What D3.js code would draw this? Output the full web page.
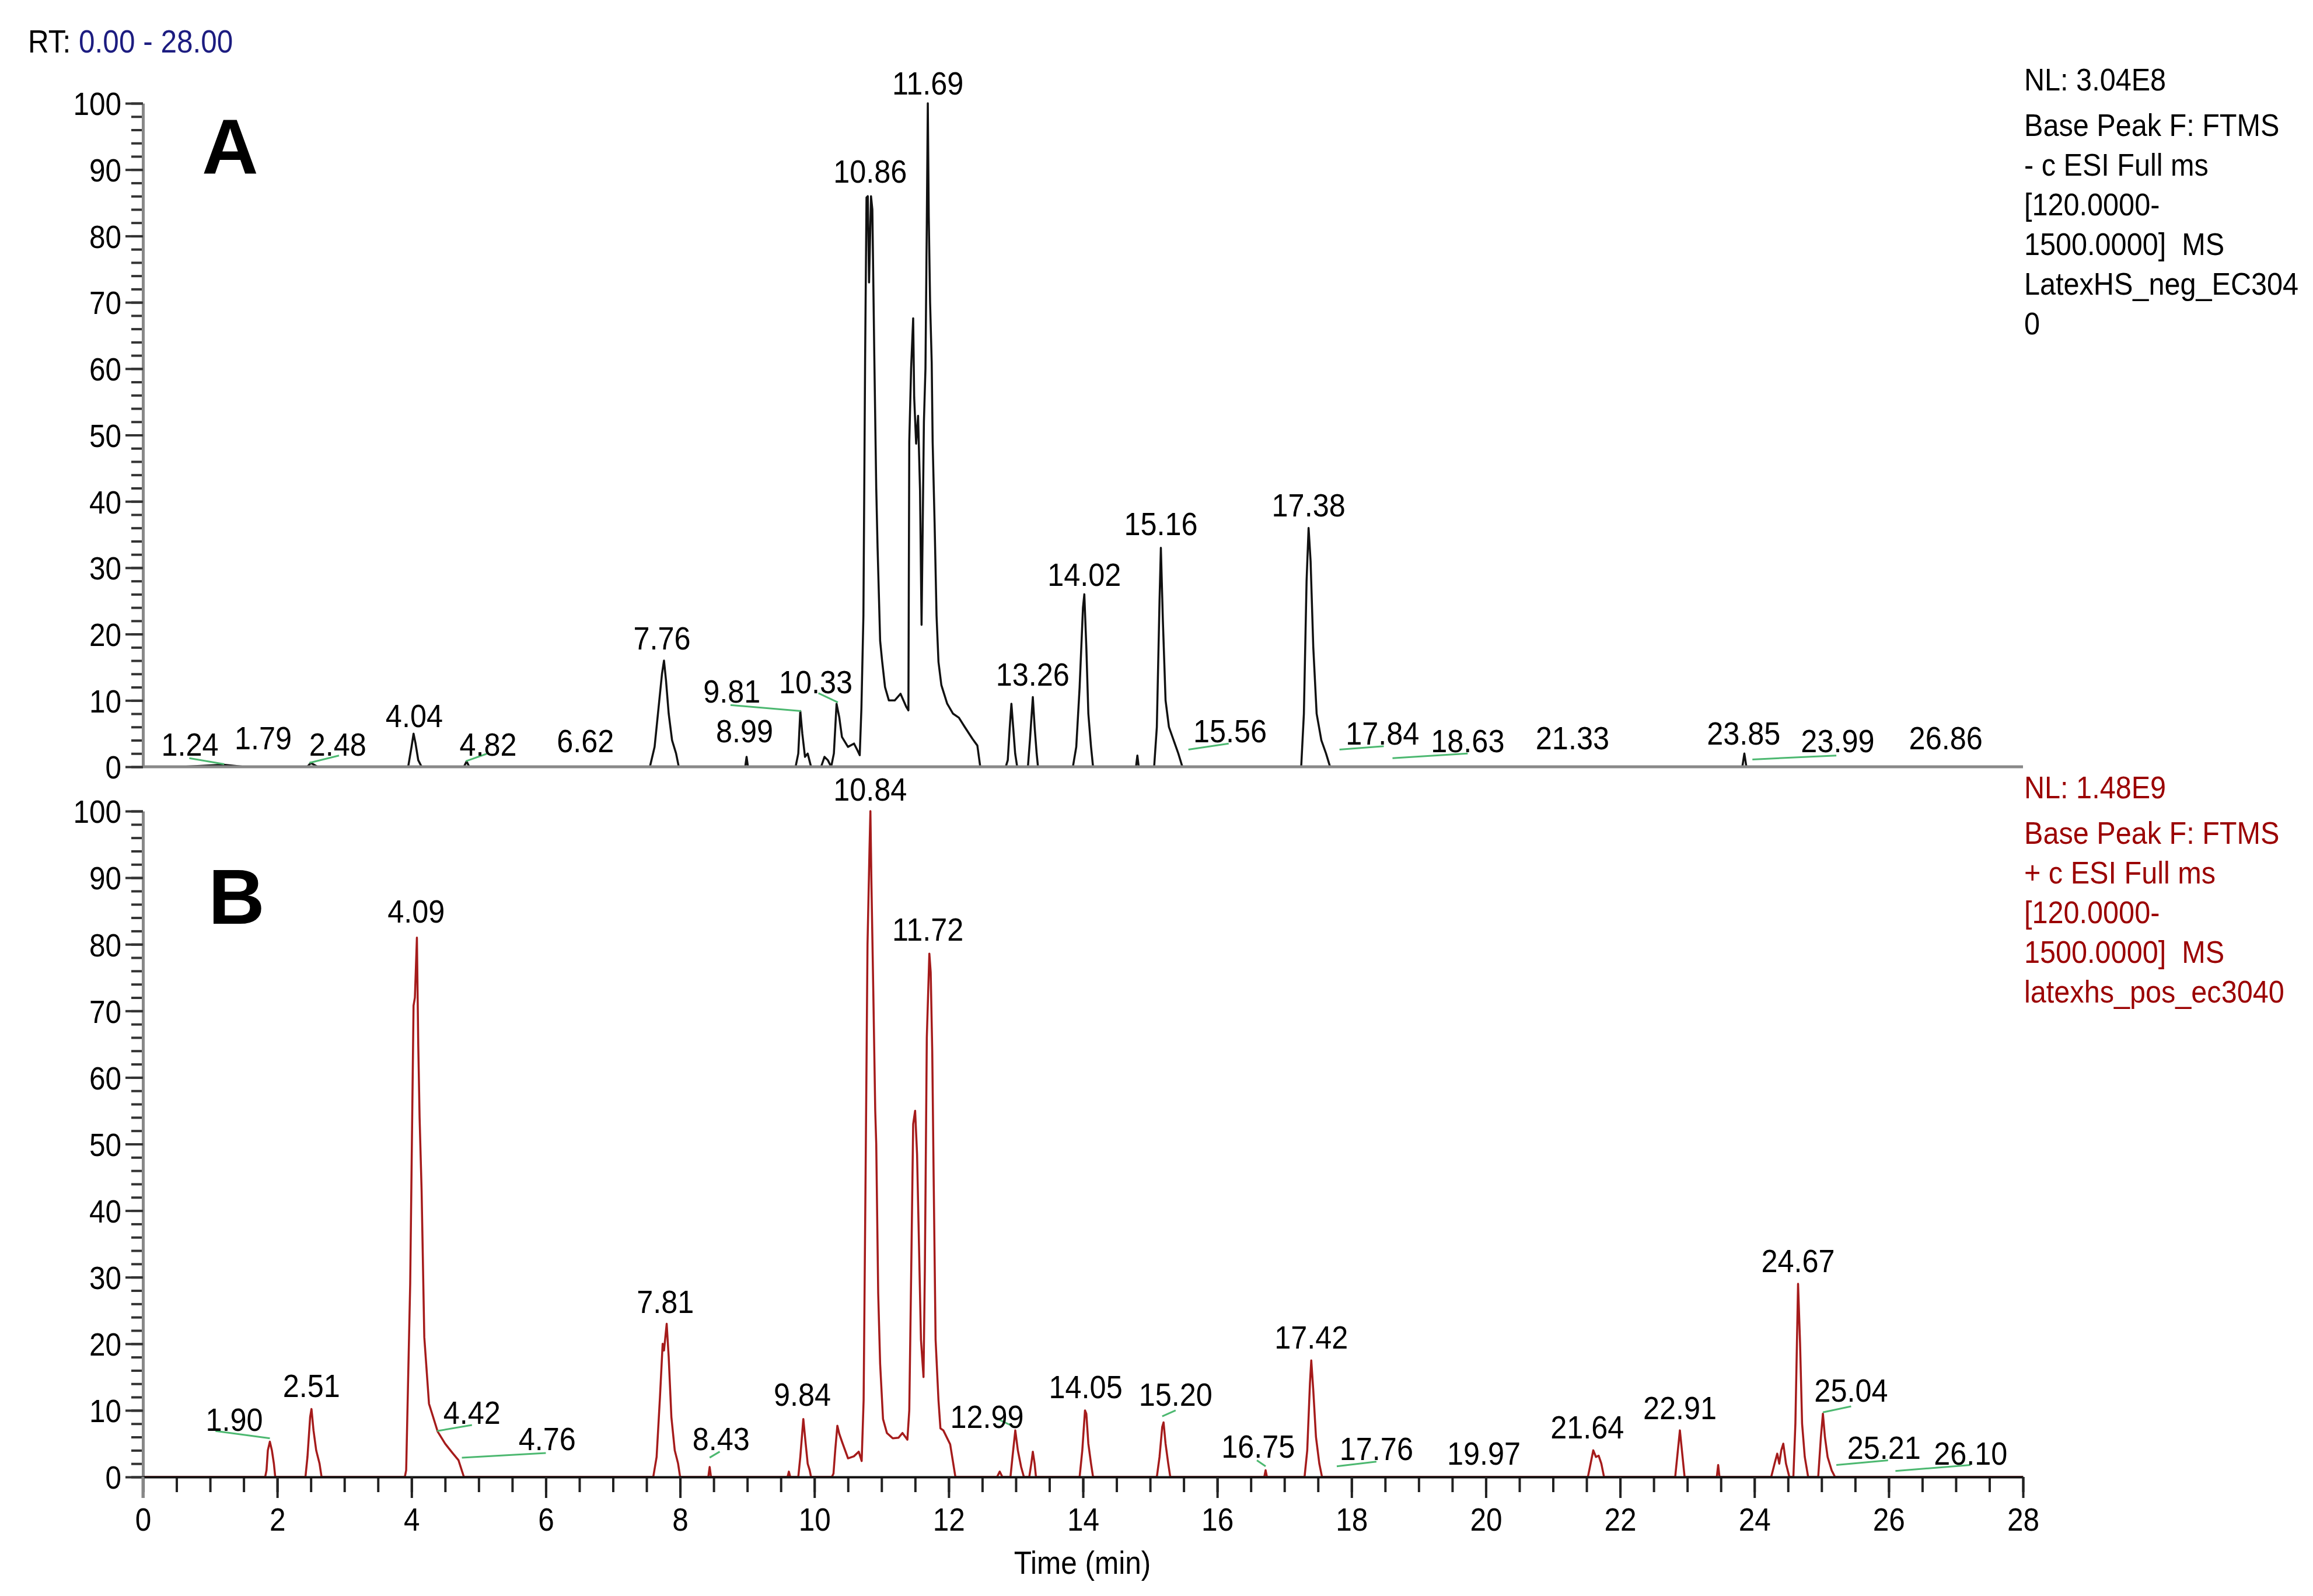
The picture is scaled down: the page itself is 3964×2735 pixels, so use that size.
<!DOCTYPE html>
<html>
<head>
<meta charset="utf-8">
<script src="https://cdn.jsdelivr.net/npm/d3@7"></script>
<style>
  body { margin: 0; background: #fff; }
  text { font-family: "Liberation Sans", Arial, sans-serif; white-space: pre; }
</style>
</head>
<body>
<script>
// retention time range (min) and relative abundance range
var timeRange = [0, 28];
var abundRange = [0, 100];
var majorTimeTicks = d3.range(0, 29, 2);
var minorTimeTicks = d3.range(0, 28.01, 0.5);
var majorAbundTicks = d3.range(0, 101, 10);
var minorAbundTicks = d3.range(0, 101, 2);

// trace A, negative mode base peak chromatogram [time, relative abundance]
var traceA = [
	[0,0],[0.6,0],[1.2,0.3],[1.5,0],[2.45,0],[2.5,0.6],[2.6,0],[3.95,0],[4.0,3],[4.03,5],[4.06,3.5],[4.1,1],[4.15,0],
	[4.78,0],[4.82,0.8],[4.86,0],[7.55,0],[7.62,3],[7.68,9],[7.73,14],[7.76,16],[7.79,13],[7.83,8],[7.88,4],[7.94,2],[7.98,0],
	[8.97,0],[8.99,1.5],[9.01,0],[9.72,0],[9.76,2],[9.79,8.4],[9.82,5],[9.86,1.5],[9.9,2],[9.95,0],[10.1,0],[10.15,1.5],[10.2,1],[10.25,0],
	[10.29,2],[10.33,9.5],[10.37,7.5],[10.41,4.5],[10.5,3],[10.59,3.5],[10.64,2.5],[10.675,1.75],[10.70,8.75],[10.73,22.8],[10.755,61],
	[10.776,85.8],[10.795,86],[10.814,73],[10.83,80],[10.843,86],[10.863,84],[10.892,62],[10.921,42],[10.941,33],[10.979,19],[11.008,16],
	[11.052,12],[11.109,10],[11.196,10],[11.283,11],[11.37,9],[11.40,8.5],[11.413,49],[11.44,60],[11.471,67.6],[11.486,55.7],[11.515,48.7],
	[11.544,52.9],[11.573,41.7],[11.596,21.4],[11.631,52],[11.654,60],[11.674,82],[11.689,100],[11.703,83],[11.723,70],[11.747,61],[11.761,49],
	[11.79,36.8],[11.819,22.8],[11.848,15.8],[11.891,12.3],[11.978,9.5],[12.065,8],[12.152,7.4],[12.239,6],[12.355,4.2],[12.427,3.2],[12.47,0],
	[12.85,0],[12.88,1],[12.91,6],[12.934,9.5],[12.96,6],[12.99,2],[13.02,0],[13.18,0],[13.21,4],[13.253,10.5],[13.28,6],[13.31,2],[13.33,0],
	[13.85,0],[13.9,3],[13.95,12],[14.0,24],[14.02,26],[14.05,18],[14.08,8],[14.12,3],[14.15,0],[14.79,0],[14.81,1.7],[14.83,0],
	[15.06,0],[15.1,6],[15.14,25],[15.16,33],[15.19,22],[15.23,10],[15.28,6],[15.35,4],[15.42,2],[15.48,0],
	[17.25,0],[17.29,8],[17.33,28],[17.36,36],[17.39,31],[17.43,18],[17.48,8],[17.55,4],[17.62,2],[17.68,0],
	[23.82,0],[23.85,2],[23.88,0],[28,0]
];

// trace B, positive mode base peak chromatogram
var traceB = [
	[0,0],[1.82,0],[1.84,1],[1.86,4],[1.89,5.3],[1.92,4],[1.95,2],[1.97,0],[2.42,0],[2.45,3],[2.49,9],[2.51,10.2],[2.54,7],[2.58,4],[2.63,2],[2.66,0],
	[3.9,0],[3.92,1],[3.98,29],[4.03,70.8],[4.05,72],[4.08,81],[4.10,65],[4.12,54],[4.15,43],[4.19,21],[4.26,11],[4.39,6.8],[4.5,5],[4.61,3.6],[4.7,2.5],[4.78,0],
	[7.6,0],[7.65,3],[7.7,12],[7.74,20],[7.76,19],[7.8,23],[7.83,18],[7.87,9],[7.92,4],[7.97,2],[8.0,0],[8.42,0],[8.44,1.5],[8.46,0],
	[9.6,0],[9.62,0.8],[9.64,0],[9.76,0],[9.79,3],[9.835,8.7],[9.87,5],[9.9,2],[9.93,1],[9.95,0],
	[10.26,0],[10.284,0.5],[10.31,4],[10.342,7.7],[10.37,6.5],[10.414,5.2],[10.501,2.8],[10.588,3.1],[10.66,3.8],[10.704,2.4],[10.733,11.5],
	[10.762,45],[10.791,80],[10.82,94],[10.834,100],[10.848,90],[10.877,73],[10.906,55],[10.921,50],[10.95,27.6],[10.979,17],[11.022,8.7],
	[11.08,6.6],[11.167,5.8],[11.254,5.9],[11.312,6.6],[11.385,5.6],[11.413,10],[11.442,31],[11.471,53],[11.5,55],[11.529,48.5],[11.558,34.6],
	[11.587,20.6],[11.625,15],[11.645,31],[11.674,66],[11.712,78.6],[11.732,75.8],[11.755,64],[11.776,45],[11.805,20.6],[11.848,11.5],
	[11.877,7.3],[11.92,7],[12.022,4.9],[12.1,0],
	[12.72,0],[12.76,0.8],[12.8,0],[12.92,0],[12.95,3],[12.992,7],[13.03,4],[13.079,1.5],[13.12,0],[13.2,0],[13.23,2],[13.253,3.8],[13.28,2],[13.3,0],
	[13.95,0],[13.99,4],[14.03,10],[14.05,9.5],[14.08,5],[14.12,2],[14.15,0],[15.1,0],[15.14,3],[15.18,7.5],[15.2,8.2],[15.23,5],[15.27,2],[15.3,0],
	[16.7,0],[16.72,1],[16.74,0],[17.3,0],[17.34,4],[17.38,14],[17.4,17.5],[17.43,13],[17.47,6],[17.52,2],[17.56,0],
	[21.52,0],[21.56,2],[21.6,4],[21.64,3],[21.68,3.2],[21.72,2],[21.76,0],[22.82,0],[22.86,4],[22.89,7],[22.92,4],[22.96,0],
	[23.44,0],[23.46,1.8],[23.48,0],[24.25,0],[24.3,2],[24.34,3.5],[24.37,2],[24.4,4],[24.43,5],[24.47,2],[24.52,0],
	[24.58,0],[24.61,8],[24.65,29],[24.68,20],[24.71,8],[24.75,3],[24.8,0],[24.95,0],[24.99,6],[25.02,9.5],[25.05,6],[25.09,3],[25.15,1],[25.2,0],[28,0]
];

// peak labels [text, time of label centre, abundance of label baseline]
var labelsA = [
	["1.24",0.70,1.7],["1.79",1.79,2.6],["2.48",2.90,1.7],["4.04",4.04,6.0],["4.82",5.14,1.7],["6.62",6.59,2.2],
	["7.76",7.73,17.7],["8.99",8.96,3.7],["9.81",8.77,9.7],["10.33",10.02,11.1],["10.86",10.83,88],["11.69",11.69,101.3],
	["13.26",13.25,12.2],["14.02",14.02,27.3],["15.16",15.16,34.9],["15.56",16.19,3.7],["17.38",17.36,37.7],["17.84",18.46,3.3],
	["18.63",19.73,2.2],["21.33",21.29,2.6],["23.85",23.84,3.3],["23.99",25.24,2.2],["26.86",26.85,2.6]
];
var labelsB = [
	["1.90",1.36,6.9],["2.51",2.51,12.0],["4.09",4.07,83.3],["4.42",4.90,8.0],["4.76",6.02,4.0],["7.81",7.78,24.6],
	["8.43",8.61,4.0],["9.84",9.82,10.7],["10.84",10.83,101.6],["11.72",11.69,80.5],["12.99",12.57,7.4],["14.05",14.04,11.8],
	["15.20",15.38,10.7],["16.75",16.61,2.9],["17.42",17.40,19.3],["17.76",18.37,2.5],["19.97",19.97,1.8],["21.64",21.51,5.8],
	["22.91",22.89,8.7],["24.67",24.65,30.8],["25.04",25.44,11.3],["25.21",25.93,2.7],["26.10",27.22,1.8]
];

// green leader lines [t1, v1, t2, v2]
var leadersA = [
	[0.69,1.3,1.21,0.4],[2.48,0.6,2.92,1.7],[4.81,0.85,5.12,1.96],[8.75,9.3,9.80,8.4],[10.06,11.1,10.35,9.7],
	[15.57,2.6,16.17,3.5],[17.82,2.6,18.48,3.1],[18.61,1.3,19.73,2.0],[23.97,1.1,25.22,1.7]
];
var leadersB = [
	[1.08,6.9,1.89,5.8],[4.38,6.9,4.90,7.8],[4.75,2.9,6.0,3.6],[8.44,2.9,8.59,3.8],[12.73,8.7,12.98,7.5],
	[15.18,9.1,15.38,10.0],[16.59,2.5,16.72,1.6],[17.78,1.6,18.37,2.3],[25.02,9.7,25.44,10.6],[25.22,1.8,25.99,2.5],[26.10,0.9,27.22,1.8]
];

// header text for each trace
var infoA = ["NL: 3.04E8", "Base Peak F: FTMS", "- c ESI Full ms", "[120.0000-", "1500.0000]  MS", "LatexHS_neg_EC304", "0"];
var infoB = ["NL: 1.48E9", "Base Peak F: FTMS", "+ c ESI Full ms", "[120.0000-", "1500.0000]  MS", "latexhs_pos_ec3040"];

(function(){

	var width = 3964, height = 2735;
	var narrow = 0.9; //horizontal squeeze to mimic the condensed Helvetica

	var svg = d3.select("body").append("svg")
		.attr("width", width)
		.attr("height", height)
		.style("display", "block");

	svg.append("rect").attr("width", width).attr("height", height).attr("fill", "#fff");

	var x = d3.scaleLinear().domain(timeRange).range([245, 3467]);
	var yA = d3.scaleLinear().domain(abundRange).range([1314, 177]);
	var yB = d3.scaleLinear().domain(abundRange).range([2531, 1390]);

	//squeezed text helper
	function narrowText(g, tx, ty, str, size, anchor, color){
		var t = g.append("g")
			.attr("transform", "translate(" + tx + "," + ty + ") scale(" + narrow + ",1)")
			.append("text")
			.attr("font-size", size)
			.attr("text-anchor", anchor)
			.attr("fill", color)
			.text(str);
		return t;
	}

	function drawPanel(trace, y, color, labels, leaders, info, infoColor, infoTop, letter, letterPos){
		var g = svg.append("g");

		var line = d3.line()
			.x(function(d){ return x(d[0]); })
			.y(function(d){ return y(d[1]); });

		g.append("path")
			.datum(trace)
			.attr("fill", "none")
			.attr("stroke", color)
			.attr("stroke-width", 3.5)
			.attr("stroke-linejoin", "round")
			.attr("d", line);

		//minor y ticks
		g.append("g")
			.attr("transform", "translate(245,0)")
			.call(d3.axisLeft(y).tickValues(minorAbundTicks).tickSize(20).tickSizeOuter(0).tickFormat(""))
			.call(function(a){
				a.select(".domain").remove();
				a.selectAll("line").attr("stroke", "#333").attr("stroke-width", 4);
			});

		//major y ticks with labels
		g.append("g")
			.attr("transform", "translate(245,0)")
			.call(d3.axisLeft(y).tickValues(majorAbundTicks).tickSize(30).tickSizeOuter(0).tickFormat(d3.format("d")))
			.call(function(a){
				a.select(".domain").attr("stroke", "#888").attr("stroke-width", 5);
				a.selectAll("line").attr("stroke", "#333").attr("stroke-width", 4);
				a.selectAll("text")
					.attr("font-family", "Liberation Sans, Arial, sans-serif")
					.attr("font-size", 55)
					.attr("fill", "#000")
					.attr("x", -37 / narrow)
					.attr("dy", "0.36em")
					.attr("transform", "scale(" + narrow + ",1)");
			});

		//green leader lines
		g.selectAll(".leader")
			.data(leaders)
			.enter()
			.append("line")
			.attr("class", "leader")
			.attr("x1", function(d){ return x(d[0]); })
			.attr("y1", function(d){ return y(d[1]); })
			.attr("x2", function(d){ return x(d[2]); })
			.attr("y2", function(d){ return y(d[3]); })
			.attr("stroke", "#4cb870")
			.attr("stroke-width", 3);

		//peak labels
		labels.forEach(function(d){
			narrowText(g, x(d[1]), y(d[2]), d[0], 56, "middle", "#000");
		});

		//instrument info block at the right
		info.forEach(function(s, i){
			var base = infoTop + (i == 0 ? 0 : 78 + (i - 1) * 68);
			narrowText(g, 3469, base, s, 54, "start", infoColor);
		});

		g.append("text")
			.attr("x", letterPos[0])
			.attr("y", letterPos[1])
			.attr("font-size", 134)
			.attr("font-weight", "bold")
			.attr("fill", "#000")
			.text(letter);

		return g;
	};

	var panelA = drawPanel(traceA, yA, "#111", labelsA, leadersA, infoA, "#000", 155, "A", [346, 298]);

	//panel A only has a plain gray baseline
	panelA.append("line")
		.attr("x1", x(0)).attr("x2", x(28))
		.attr("y1", yA(0)).attr("y2", yA(0))
		.attr("stroke", "#888")
		.attr("stroke-width", 5);

	var panelB = drawPanel(traceB, yB, "#a51b1b", labelsB, leadersB, infoB, "#9b0000", 1368, "B", [357, 1583]);

	//time axis under panel B
	panelB.append("g")
		.attr("transform", "translate(0," + yB(0) + ")")
		.call(d3.axisBottom(x).tickValues(minorTimeTicks).tickSize(26).tickSizeOuter(0).tickFormat(""))
		.call(function(a){
			a.select(".domain").remove();
			a.selectAll("line").attr("stroke", "#222").attr("stroke-width", 4);
		});

	panelB.append("g")
		.attr("transform", "translate(0," + yB(0) + ")")
		.call(d3.axisBottom(x).tickValues(majorTimeTicks).tickSize(36).tickSizeOuter(0).tickFormat(d3.format("d")))
		.call(function(a){
			a.select(".domain").attr("stroke", "#111").attr("stroke-width", 4);
			a.selectAll("line").attr("stroke", "#222").attr("stroke-width", 4);
			a.selectAll("text")
				.attr("font-family", "Liberation Sans, Arial, sans-serif")
				.attr("font-size", 55)
				.attr("fill", "#000")
				.attr("y", 92)
				.attr("dy", 0)
				.attr("transform", "scale(" + narrow + ",1)");
		});

	//gray stubs at the axis ends
	panelB.append("line")
		.attr("x1", x(0)).attr("x2", x(0))
		.attr("y1", yB(0)).attr("y2", yB(0) + 36)
		.attr("stroke", "#888").attr("stroke-width", 5);

	narrowText(svg, 1855, 2697, "Time (min)", 55, "middle", "#000");

	//retention time header
	var rt = narrowText(svg, 48, 90, "RT: ", 55, "start", "#000");
	rt.append("tspan").attr("fill", "#1c1c80").text("0.00 - 28.00");

})();
</script>
</body>
</html>
